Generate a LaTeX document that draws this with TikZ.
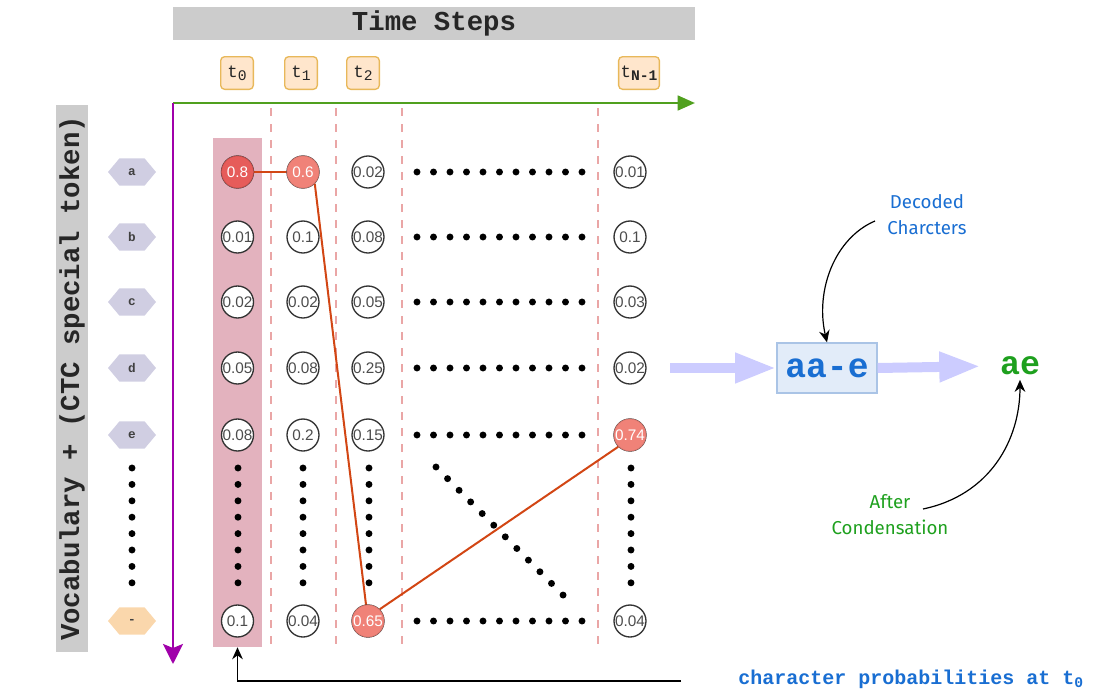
\documentclass[tikz,border=0pt]{standalone}
\usepackage{fontspec}
\setmainfont{Liberation Sans}
\newfontfamily\monofont{Liberation Mono}
\newfontfamily\handfont{Fira Sans}
\usetikzlibrary{arrows.meta,shapes.symbols}

\definecolor{barGray}{RGB}{204,204,204}
\definecolor{colPink}{RGB}{227,178,190}
\definecolor{dashPink}{RGB}{234,166,166}
\definecolor{tFill}{RGB}{255,230,204}
\definecolor{tDraw}{RGB}{232,184,90}
\definecolor{axisGreen}{RGB}{80,160,30}
\definecolor{axisMagenta}{RGB}{160,0,170}
\definecolor{hexLav}{RGB}{208,206,226}
\definecolor{hexOrange}{RGB}{250,215,172}
\definecolor{hotRed}{RGB}{230,92,90}
\definecolor{warmRed}{RGB}{240,130,120}
\definecolor{pathRed}{RGB}{210,70,20}
\definecolor{flowLav}{RGB}{204,204,255}
\definecolor{boxFill}{RGB}{226,236,249}
\definecolor{boxDraw}{RGB}{170,196,230}
\definecolor{textBlue}{RGB}{25,110,210}
\definecolor{textGreen}{RGB}{30,160,30}

% t with a lowered index in the same typewriter face
\newcommand\tsub[2]{#1\raisebox{-0.35ex}{\fontsize{11}{11}\selectfont #2}}

\pgfdeclarelayer{back}
\pgfdeclarelayer{mid}
\pgfsetlayers{back,mid,main}

\tikzset{
  prob/.style={circle, draw=black!80, line width=1pt, fill=white,
    minimum size=24pt, inner sep=0pt, text=black!70,
    font=\fontsize{11.5}{11.5}\selectfont},
  hot/.style={prob, fill=hotRed, draw=hotRed!85!black, line width=0.5pt, text=white},
  warm/.style={prob, fill=warmRed, draw=warmRed!90!black, line width=0.5pt, text=white},
  tstep/.style={rectangle, rounded corners=3pt, fill=tFill, draw=tDraw,
    line width=1pt, minimum size=24.5pt, inner sep=1.5pt,
    font=\monofont\fontsize{13}{13}\selectfont, text=black!85},
  vocab/.style={signal, signal to=west and east, signal pointer angle=100,
    fill=hexLav, minimum width=36pt, minimum height=20.5pt, inner sep=0pt,
    font=\monofont\bfseries\fontsize{9.5}{9.5}\selectfont, text=black!75},
  header/.style={fill=barGray, inner sep=0pt, text=black!85,
    font=\monofont\bfseries\fontsize{20.5}{20.5}\selectfont},
  stepline/.style={dashPink, line width=1.5pt, dash pattern=on 6pt off 6pt},
  pathline/.style={pathRed, line width=1.5pt},
  flow/.style={flowLav, line width=7.5pt, -{Triangle[length=31pt,width=21pt]}},
  note/.style={black, line width=0.9pt, -{Stealth[length=9pt,width=8pt]}},
  dot/.style={fill=black}
}

\begin{document}
\begin{tikzpicture}[x=0.75pt,y=-0.75pt]
\useasboundingbox (0,0) rectangle (1115,693);

% headers
\node[header, minimum width=391.5pt, minimum height=24.75pt] (timehdr) at (434,23.5) {Time Steps};
\node[header, rotate=90, minimum width=410pt, minimum height=24pt] (vocabhdr) at (72,378.5) {Vocabulary + (CTC special token)};

% time step tags
\node[tstep] (t0) at (237,73) {\tsub{t}{0}};
\node[tstep] (t1) at (301,73) {\tsub{t}{1}};
\node[tstep] (t2) at (363,73) {\tsub{t}{2}};
\node[tstep] (tN) at (639,73) {\tsub{t}{\bfseries N-1}};

% axes
\coordinate (origin) at (173,103);
\coordinate (timeend) at (695,103);
\coordinate (vocabend) at (173,664);
\draw[axisGreen, line width=2pt, -{Triangle[length=13pt,width=11pt]}] (origin) -- (timeend);
\draw[axisMagenta, line width=2pt, -{Stealth[length=15pt,width=15pt,inset=3pt]}] (origin) -- (vocabend);

% vocabulary tokens
\foreach \name/\y/\lbl in {a/172/a, b/237/b, c/302/c, d/368/d, e/435/e}
  \node[vocab] (v\name) at (132,\y) {\lbl};
\node[vocab, fill=hexOrange] (vblank) at (132,621) {-};

\begin{pgfonlayer}{back}
  % highlighted column for t0
  \node[fill=colPink, minimum width=36.75pt, minimum height=381.75pt, inner sep=0pt] (col0) at (237.5,392.5) {};
  % separators between time steps
  \foreach \x in {271,336,402,598}
    \draw[stepline] (\x,108) -- (\x,650);
\end{pgfonlayer}

% probability grid
\foreach \c/\x/\vals in {0/237.5/{0.8,0.01,0.02,0.05,0.08,0.1},
                         1/303/{0.6,0.1,0.02,0.08,0.2,0.04},
                         2/368/{0.02,0.08,0.05,0.25,0.15,0.65},
                         3/630/{0.01,0.1,0.03,0.02,0.74,0.04}}{
  \foreach \v [count=\r] in \vals {
    \pgfmathsetmacro{\yy}{{172,237,302,368,435,621}[\r-1]}
    \node[prob] (p\c-\r) at (\x,\yy) {\v};
  }
}
% most likely characters
\node[hot]  at (p0-1) {0.8};
\node[warm] at (p1-1) {0.6};
\node[warm] at (p2-6) {0.65};
\node[warm] at (p3-5) {0.74};

% best path
\begin{pgfonlayer}{mid}
  \draw[pathline] (p0-1.center) -- (p1-1.center);
  \draw[pathline] (p1-1.south east) -- (p2-6.center);
  \draw[pathline] (p2-6.north east) -- (p3-5.south west);
\end{pgfonlayer}

% elided rows
\foreach \y in {172,237,302,368,435,621}
  \foreach \i in {0,...,10}
    \fill[dot] (417+16.5*\i,\y) circle[radius=2.6pt];
% elided vocabulary entries
\foreach \x in {132,238,303,369,631}
  \foreach \i in {0,...,7}
    \fill[dot] (\x,468+16.4*\i) circle[radius=2.6pt];
% elided diagonal
\foreach \i in {0,...,11}
  \fill[dot] (436+11.55*\i,467+11.64*\i) circle[radius=2.6pt];

% decoding
\coordinate (flowin) at (670,368);
\node[draw=boxDraw, fill=boxFill, line width=1pt, minimum width=75pt, minimum height=37.5pt,
  font=\monofont\bfseries\fontsize{26}{26}\selectfont, text=textBlue] (decoded) at (827,368) {aa-e};
\node[font=\monofont\bfseries\fontsize{25}{25}\selectfont, text=textGreen] (final) at (1020,366) {ae};
\draw[flow] (flowin) -- (decoded.west);
\draw[flow, shorten >=11pt] (decoded.east) -- (final.west);

\node[font=\handfont\fontsize{14}{19.5}\selectfont, text=textBlue, align=center] (deccap) at (927,215) {Decoded\\Charcters};
\node[font=\handfont\fontsize{14}{19.5}\selectfont, text=textGreen, align=center] (condcap) at (890,515) {After\\Condensation};
\coordinate (decstart) at (875,221);
\coordinate (condstart) at (923,509);
\draw[note] (decstart) .. controls (835,238) and (815,290) .. (decoded.north);
\draw[note] (condstart) .. controls (990,495) and (1020,440) .. (final.south);

% feedback to the t0 column
\coordinate (fbstart) at (681,681);
\draw[note] (fbstart) -| (col0.south);
\node[anchor=west, inner sep=0pt, font=\monofont\bfseries\fontsize{15}{15}\selectfont, text=textBlue] (probcap) at (738,679) {character probabilities at \tsub{t}{0}};
\end{tikzpicture}
\end{document}
